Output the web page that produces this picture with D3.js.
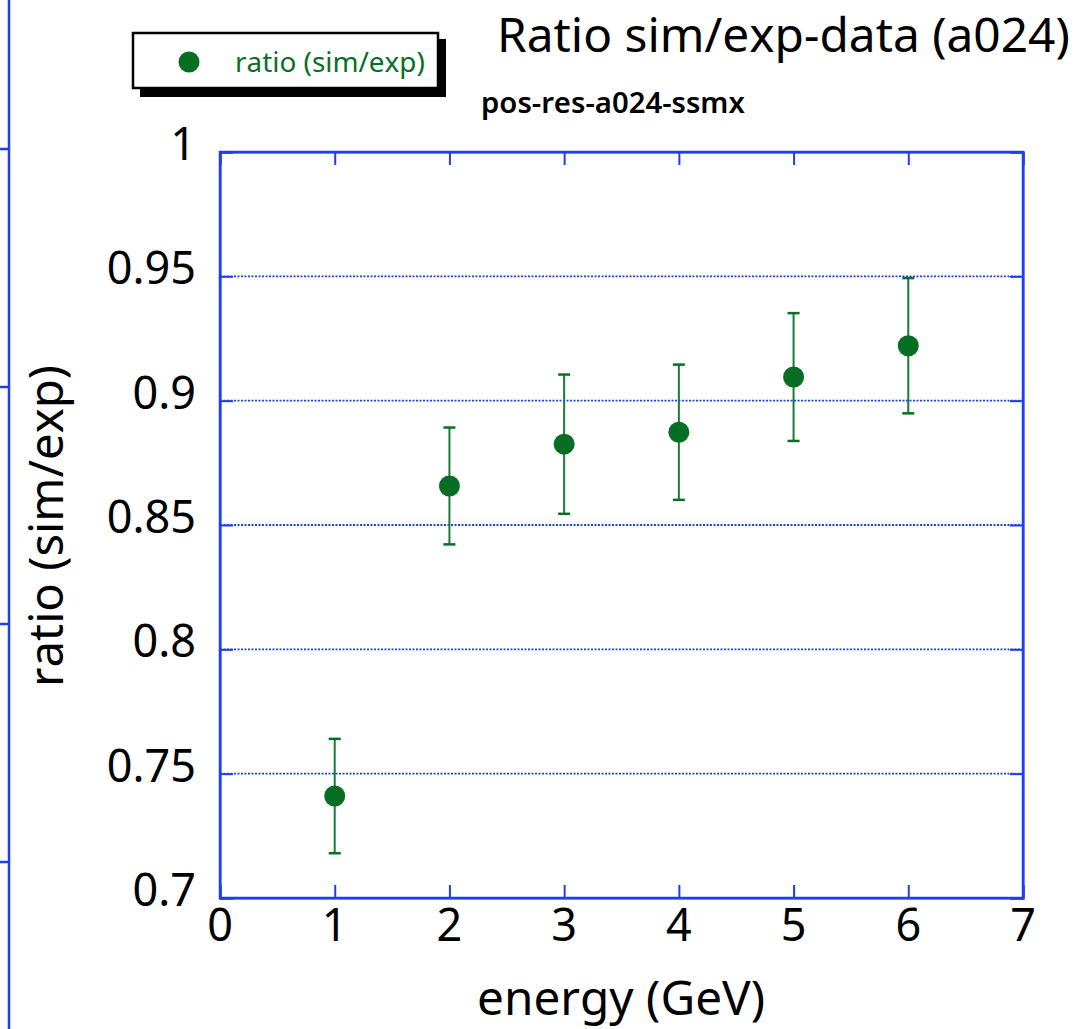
<!DOCTYPE html>
<html>
<head>
<meta charset="utf-8">
<script src="https://cdn.jsdelivr.net/npm/d3@7"></script>
<style>
html,body{margin:0;padding:0;background:#fff;}
svg{display:block;}
text{font-variant-ligatures:none;font-kerning:none;}
</style>
</head>
<body>
<script>
// ---- data ----
const energy = [1, 2, 3, 4, 5, 6];
const ratio = [0.741, 0.8657, 0.8825, 0.8873, 0.9095, 0.9221];
const ratioErr = [0.0230, 0.0235, 0.0280, 0.0272, 0.0257, 0.0272];
const xTicks = [0, 1, 2, 3, 4, 5, 6, 7];
const yTicks = [0.7, 0.75, 0.8, 0.85, 0.9, 0.95, 1];
const yTickLabels = ["0.7", "0.75", "0.8", "0.85", "0.9", "0.95", "1"];
const titleText = "Ratio sim/exp-data (a024)";
const subtitleText = "pos-res-a024-ssmx";
const legendLabel = "ratio (sim/exp)";
const xLabel = "energy (GeV)";
const yLabel = "ratio (sim/exp)";

const W = 1080, H = 1029;
const blue = "#1f3ef0";
const green = "#086e24";
const errGreen = "#1a7a32";
const font = "'Noto Sans', 'Open Sans', sans-serif";

const svg = d3.select("body").append("svg").attr("width", W).attr("height", H);

// write text as two runs (body + last char) so every glyph is shaped
function setText(sel, s) {
  sel.append("tspan").text(s.slice(0, -1));
  sel.append("tspan").text(s.slice(-1));
  return sel;
}
// scale font size so the text spans the wanted width
function fit(sel, base, target) {
  sel.attr("font-size", base);
  const w = sel.node().getComputedTextLength();
  if (w > 0) sel.attr("font-size", base * target / w);
  return sel;
}

const L = 220, R = 1023, T = 152, B = 898;
const x = d3.scaleLinear().domain([0, 7]).range([L, R]);
const y = d3.scaleLinear().domain([0.7, 1]).range([B, T]);

// leftover axis at left edge
const decoY = [149, 387, 624, 862];
svg.append("line").attr("x1", 9).attr("x2", 9).attr("y1", 0).attr("y2", H)
  .attr("stroke", blue).attr("stroke-width", 2.5);
svg.selectAll("line.deco").data(decoY).enter().append("line")
  .attr("x1", 0).attr("x2", 9).attr("y1", d => d).attr("y2", d => d)
  .attr("stroke", blue).attr("stroke-width", 2.5);

// gridlines
svg.append("g").selectAll("line").data(yTicks.filter(v => v > 0.7 && v < 1)).enter().append("line")
  .attr("x1", L).attr("x2", R).attr("y1", d => y(d)).attr("y2", d => y(d))
  .attr("stroke", blue).attr("stroke-width", 1.8).attr("stroke-dasharray", "2,1.5");

// axes (ticks inward)
const tl = 13;
svg.append("g").attr("transform", `translate(0,${B})`)
  .call(d3.axisTop(x).tickValues(xTicks).tickSize(tl).tickFormat(""))
  .call(g => g.selectAll("line,path").attr("stroke", blue).attr("stroke-width", 2));
svg.append("g").attr("transform", `translate(0,${T})`)
  .call(d3.axisBottom(x).tickValues(xTicks).tickSize(tl).tickFormat(""))
  .call(g => g.selectAll("line,path").attr("stroke", blue).attr("stroke-width", 2));
svg.append("g").attr("transform", `translate(${L},0)`)
  .call(d3.axisRight(y).tickValues(yTicks).tickSize(tl).tickFormat(""))
  .call(g => g.selectAll("line,path").attr("stroke", blue).attr("stroke-width", 2));
svg.append("g").attr("transform", `translate(${R},0)`)
  .call(d3.axisLeft(y).tickValues(yTicks).tickSize(tl).tickFormat(""))
  .call(g => g.selectAll("line,path").attr("stroke", blue).attr("stroke-width", 2));

// frame
svg.append("rect").attr("x", L).attr("y", T).attr("width", R - L).attr("height", B - T)
  .attr("fill", "none").attr("stroke", blue).attr("stroke-width", 2.5);

// tick labels
svg.append("g").selectAll("text").data(yTicks).enter().append("text")
  .attr("x", 196).attr("y", d => y(d) + 8)
  .attr("text-anchor", "end").attr("font-family", font).attr("font-size", 45)
  .attr("fill", "#000").text((d, i) => yTickLabels[i]);
svg.append("g").selectAll("text").data(xTicks).enter().append("text")
  .attr("x", d => x(d)).attr("y", 941)
  .attr("text-anchor", "middle").attr("font-family", font).attr("font-size", 45)
  .attr("fill", "#000").text(d => d);

// axis labels
fit(svg.append("text").attr("x", 621).attr("y", 1015).attr("text-anchor", "middle")
  .attr("font-family", font).attr("fill", "#000").text(xLabel), 40, 288);
fit(setText(svg.append("text").attr("transform", "translate(63,526) rotate(-90)").attr("text-anchor", "middle")
  .attr("font-family", font).attr("fill", "#000"), yLabel), 40, 322);

// titles
fit(svg.append("text").attr("x", 497).attr("y", 52)
  .attr("font-family", font).attr("fill", "#000").text(titleText), 41, 573);
fit(svg.append("text").attr("x", 481).attr("y", 113)
  .attr("font-family", font).attr("font-weight", 600).attr("fill", "#000").text(subtitleText), 25, 264);

// legend
const lg = svg.append("g");
lg.append("rect").attr("x", 438).attr("y", 39).attr("width", 8).attr("height", 58).attr("fill", "#000");
lg.append("rect").attr("x", 140).attr("y", 88).attr("width", 306).attr("height", 9).attr("fill", "#000");
lg.append("rect").attr("x", 133).attr("y", 33).attr("width", 305).attr("height", 55)
  .attr("fill", "#fff").attr("stroke", "#000").attr("stroke-width", 2.5);
lg.append("circle").attr("cx", 189).attr("cy", 62).attr("r", 10.5).attr("fill", green);
fit(setText(lg.append("text").attr("x", 235).attr("y", 72).attr("font-family", font)
  .attr("fill", green), legendLabel), 23, 190);

// error bars
const pts = energy.map((e, i) => ({e, v: ratio[i], err: ratioErr[i]}));
const eb = svg.append("g");
eb.selectAll("line.v").data(pts).enter().append("line")
  .attr("x1", d => x(d.e)).attr("x2", d => x(d.e))
  .attr("y1", d => y(d.v + d.err)).attr("y2", d => y(d.v - d.err))
  .attr("stroke", errGreen).attr("stroke-width", 2);
eb.selectAll("line.t").data(pts).enter().append("line")
  .attr("x1", d => x(d.e) - 6).attr("x2", d => x(d.e) + 6)
  .attr("y1", d => y(d.v + d.err)).attr("y2", d => y(d.v + d.err))
  .attr("stroke", green).attr("stroke-width", 2.5);
eb.selectAll("line.b").data(pts).enter().append("line")
  .attr("x1", d => x(d.e) - 6).attr("x2", d => x(d.e) + 6)
  .attr("y1", d => y(d.v - d.err)).attr("y2", d => y(d.v - d.err))
  .attr("stroke", green).attr("stroke-width", 2.5);
svg.append("g").selectAll("circle").data(pts).enter().append("circle")
  .attr("cx", d => x(d.e)).attr("cy", d => y(d.v)).attr("r", 10.5).attr("fill", green);
</script>
</body>
</html>
